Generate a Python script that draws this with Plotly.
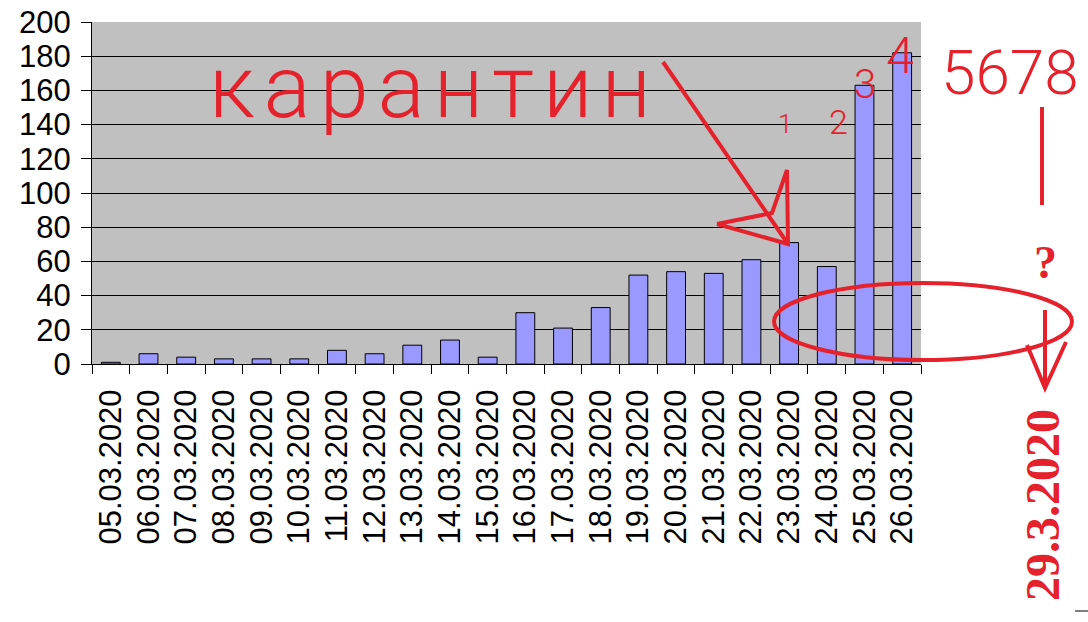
import plotly.graph_objects as go

dates = ["05.03.2020", "06.03.2020", "07.03.2020", "08.03.2020", "09.03.2020",
         "10.03.2020", "11.03.2020", "12.03.2020", "13.03.2020", "14.03.2020",
         "15.03.2020", "16.03.2020", "17.03.2020", "18.03.2020", "19.03.2020",
         "20.03.2020", "21.03.2020", "22.03.2020", "23.03.2020", "24.03.2020",
         "25.03.2020", "26.03.2020"]
cases = [1, 6, 4, 3, 3, 3, 8, 6, 11, 14, 4, 30, 21, 33, 52, 54, 53, 61, 71, 57, 163, 182]
y_ticks = [0, 20, 40, 60, 80, 100, 120, 140, 160, 180, 200]

W, H = 1088, 622
L, R, T, B = 92, 921, 22, 364
RED = "#E5212B"
HAND = "Roboto, DejaVu Sans"


def px(x):
    return (x - L) / (R - L)


def py(y):
    return (B - y) / (B - T)


fig = go.Figure()
fig.add_trace(go.Bar(
    x=dates, y=cases, width=0.5,
    marker=dict(color="#9999FF", line=dict(color="black", width=1)),
))

shapes = []
annos = []


def seg(x0, y0, x1, y1, w=4):
    shapes.append(dict(type="line", xref="paper", yref="paper",
                       x0=px(x0), y0=py(y0), x1=px(x1), y1=py(y1),
                       line=dict(color=RED, width=w)))


def path(pts, w=4):
    d = "M " + " L ".join(f"{px(a)},{py(b)}" for a, b in pts)
    shapes.append(dict(type="path", xref="paper", yref="paper", path=d,
                       line=dict(color=RED, width=w)))


def txt(s, x, y, size, family=HAND, angle=0, weight=300):
    f = dict(color=RED, size=size, family=family, weight=weight)
    annos.append(dict(text=s, xref="paper", yref="paper", x=px(x), y=py(y),
                      xanchor="center", yanchor="middle", showarrow=False,
                      textangle=angle, font=f))


# hand-drawn quarantine note
txt("\u200a".join("карантин"), 430, 86, 88)
# big arrow to 23.03
seg(663, 62, 788, 244, 4)
path([(717, 224), (788, 244), (787, 170), (772, 213), (717, 224)], 4)
# numbers
txt("1", 785, 124, 26)
txt("2", 838, 122, 34)
txt("3", 865, 84, 40)
txt("4", 900, 56, 50)
txt("5678", 1010, 72, 62)
# vertical line, question mark and down arrow
seg(1042, 107, 1042, 205, 4)
txt("?", 1045, 262, 46, family="Liberation Serif", weight="bold")
seg(1045, 310, 1045, 388, 4)
path([(1027, 345), (1045, 388), (1066, 342)], 4)
# ellipse around recent bars
shapes.append(dict(type="circle", xref="paper", yref="paper",
                   x0=px(774), x1=px(1072), y0=py(283), y1=py(360),
                   line=dict(color=RED, width=4)))
# forecast date
txt("29.3.2020", 1042, 505, 48, family="Liberation Serif", angle=-90, weight="bold")
# small dash bottom right
shapes.append(dict(type="line", xref="paper", yref="paper",
                   x0=px(1075), x1=px(1088), y0=py(611), y1=py(611),
                   line=dict(color="black", width=1)))

fig.update_layout(
    width=W, height=H,
    margin=dict(l=L, r=W - R, t=T, b=H - B),
    paper_bgcolor="white", plot_bgcolor="#C0C0C0",
    showlegend=False, bargap=0.5,
    font=dict(family="Liberation Sans, Arial", color="black", size=30),
    shapes=shapes, annotations=annos,
)
fig.update_xaxes(
    type="category", tickangle=-90, tickson="boundaries",
    ticks="outside", ticklen=9, tickcolor="black", tickwidth=1,
    showline=True, linecolor="black", linewidth=1, showgrid=False,
    tickfont=dict(size=31, family="Liberation Sans, Arial"),
    ticklabelstandoff=12, automargin=False,
)
fig.update_yaxes(
    range=[0, 200], tickvals=y_ticks, ticks="outside", ticklen=10,
    tickcolor="black", tickwidth=1,
    showline=True, linecolor="black", linewidth=1,
    showgrid=True, gridcolor="black", gridwidth=1, zeroline=False,
    tickfont=dict(size=31, family="Liberation Sans, Arial"),
    ticklabelstandoff=4, automargin=False,
)

fig.write_html("out.html", config={"displayModeBar": False},
               post_script="document.body.style.margin='0';")
